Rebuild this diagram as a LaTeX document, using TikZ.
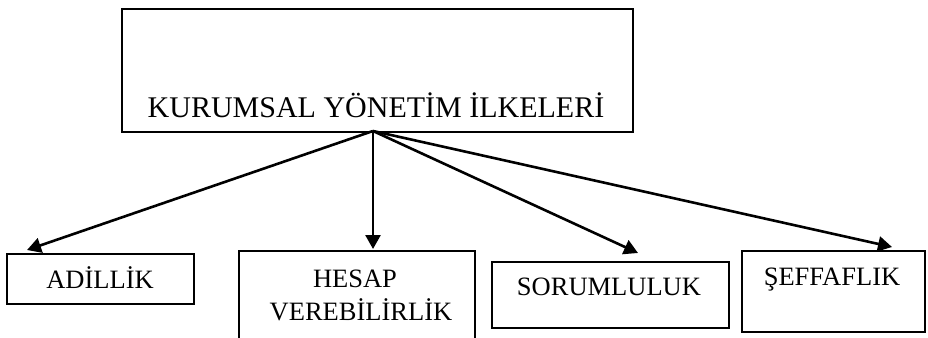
\documentclass[tikz,border=0pt]{standalone}
\usepackage{fontspec}
\setmainfont{Liberation Serif}
\usetikzlibrary{arrows.meta}
\begin{document}
\begin{tikzpicture}[x=1pt,y=-1pt,
  box/.style={draw=black,line width=1.6pt,rectangle,inner sep=0pt,anchor=north west},
  toplabel/.style={anchor=base,inner sep=0pt,font=\fontsize{30}{36}\selectfont},
  label/.style={anchor=base,inner sep=0pt,font=\fontsize{26.5}{32}\selectfont},
  link/.style={line width=2.6pt,-{Triangle[length=14pt,width=15pt]}}]
\useasboundingbox (0,0) rectangle (928,337);
\clip (0,0) rectangle (928,337);

% main box
\node[box,minimum width=511pt,minimum height=123pt] (main) at (121,8) {};
\node[toplabel] (maintext) at (376,117) {KURUMSAL YÖNETİM İLKELERİ};

% principle boxes
\node[box,minimum width=187pt,minimum height=50pt] (adil) at (6,253) {};
\node[label] (adiltext) at (100,288) {ADİLLİK};

\node[box,minimum width=236pt,minimum height=110pt] (hesap) at (238,250) {};
\node[label] (hesaptext) at (355,287) {HESAP};
\node[label] (verebtext) at (361,320) {VEREBİLİRLİK};

\node[box,minimum width=237pt,minimum height=66pt] (sorum) at (491,261) {};
\node[label] (sorumtext) at (609,295) {SORUMLULUK};

\node[box,minimum width=183pt,minimum height=81pt] (seff) at (741,250) {};
\node[label] (sefftext) at (832,285) {ŞEFFAFLIK};

% arrow hub and tips
\coordinate (hub) at (373,131);
\coordinate (adiltip) at (27,250);
\coordinate (hesaptip) at (373,249);
\coordinate (sorumtip) at (638,253);
\coordinate (sefftip) at (892,247);

\draw[link] (hub) -- (adiltip);
\draw[link] (hub) -- (hesaptip);
\draw[link] (hub) -- (sorumtip);
\draw[link] (hub) -- (sefftip);
\end{tikzpicture}
\end{document}
